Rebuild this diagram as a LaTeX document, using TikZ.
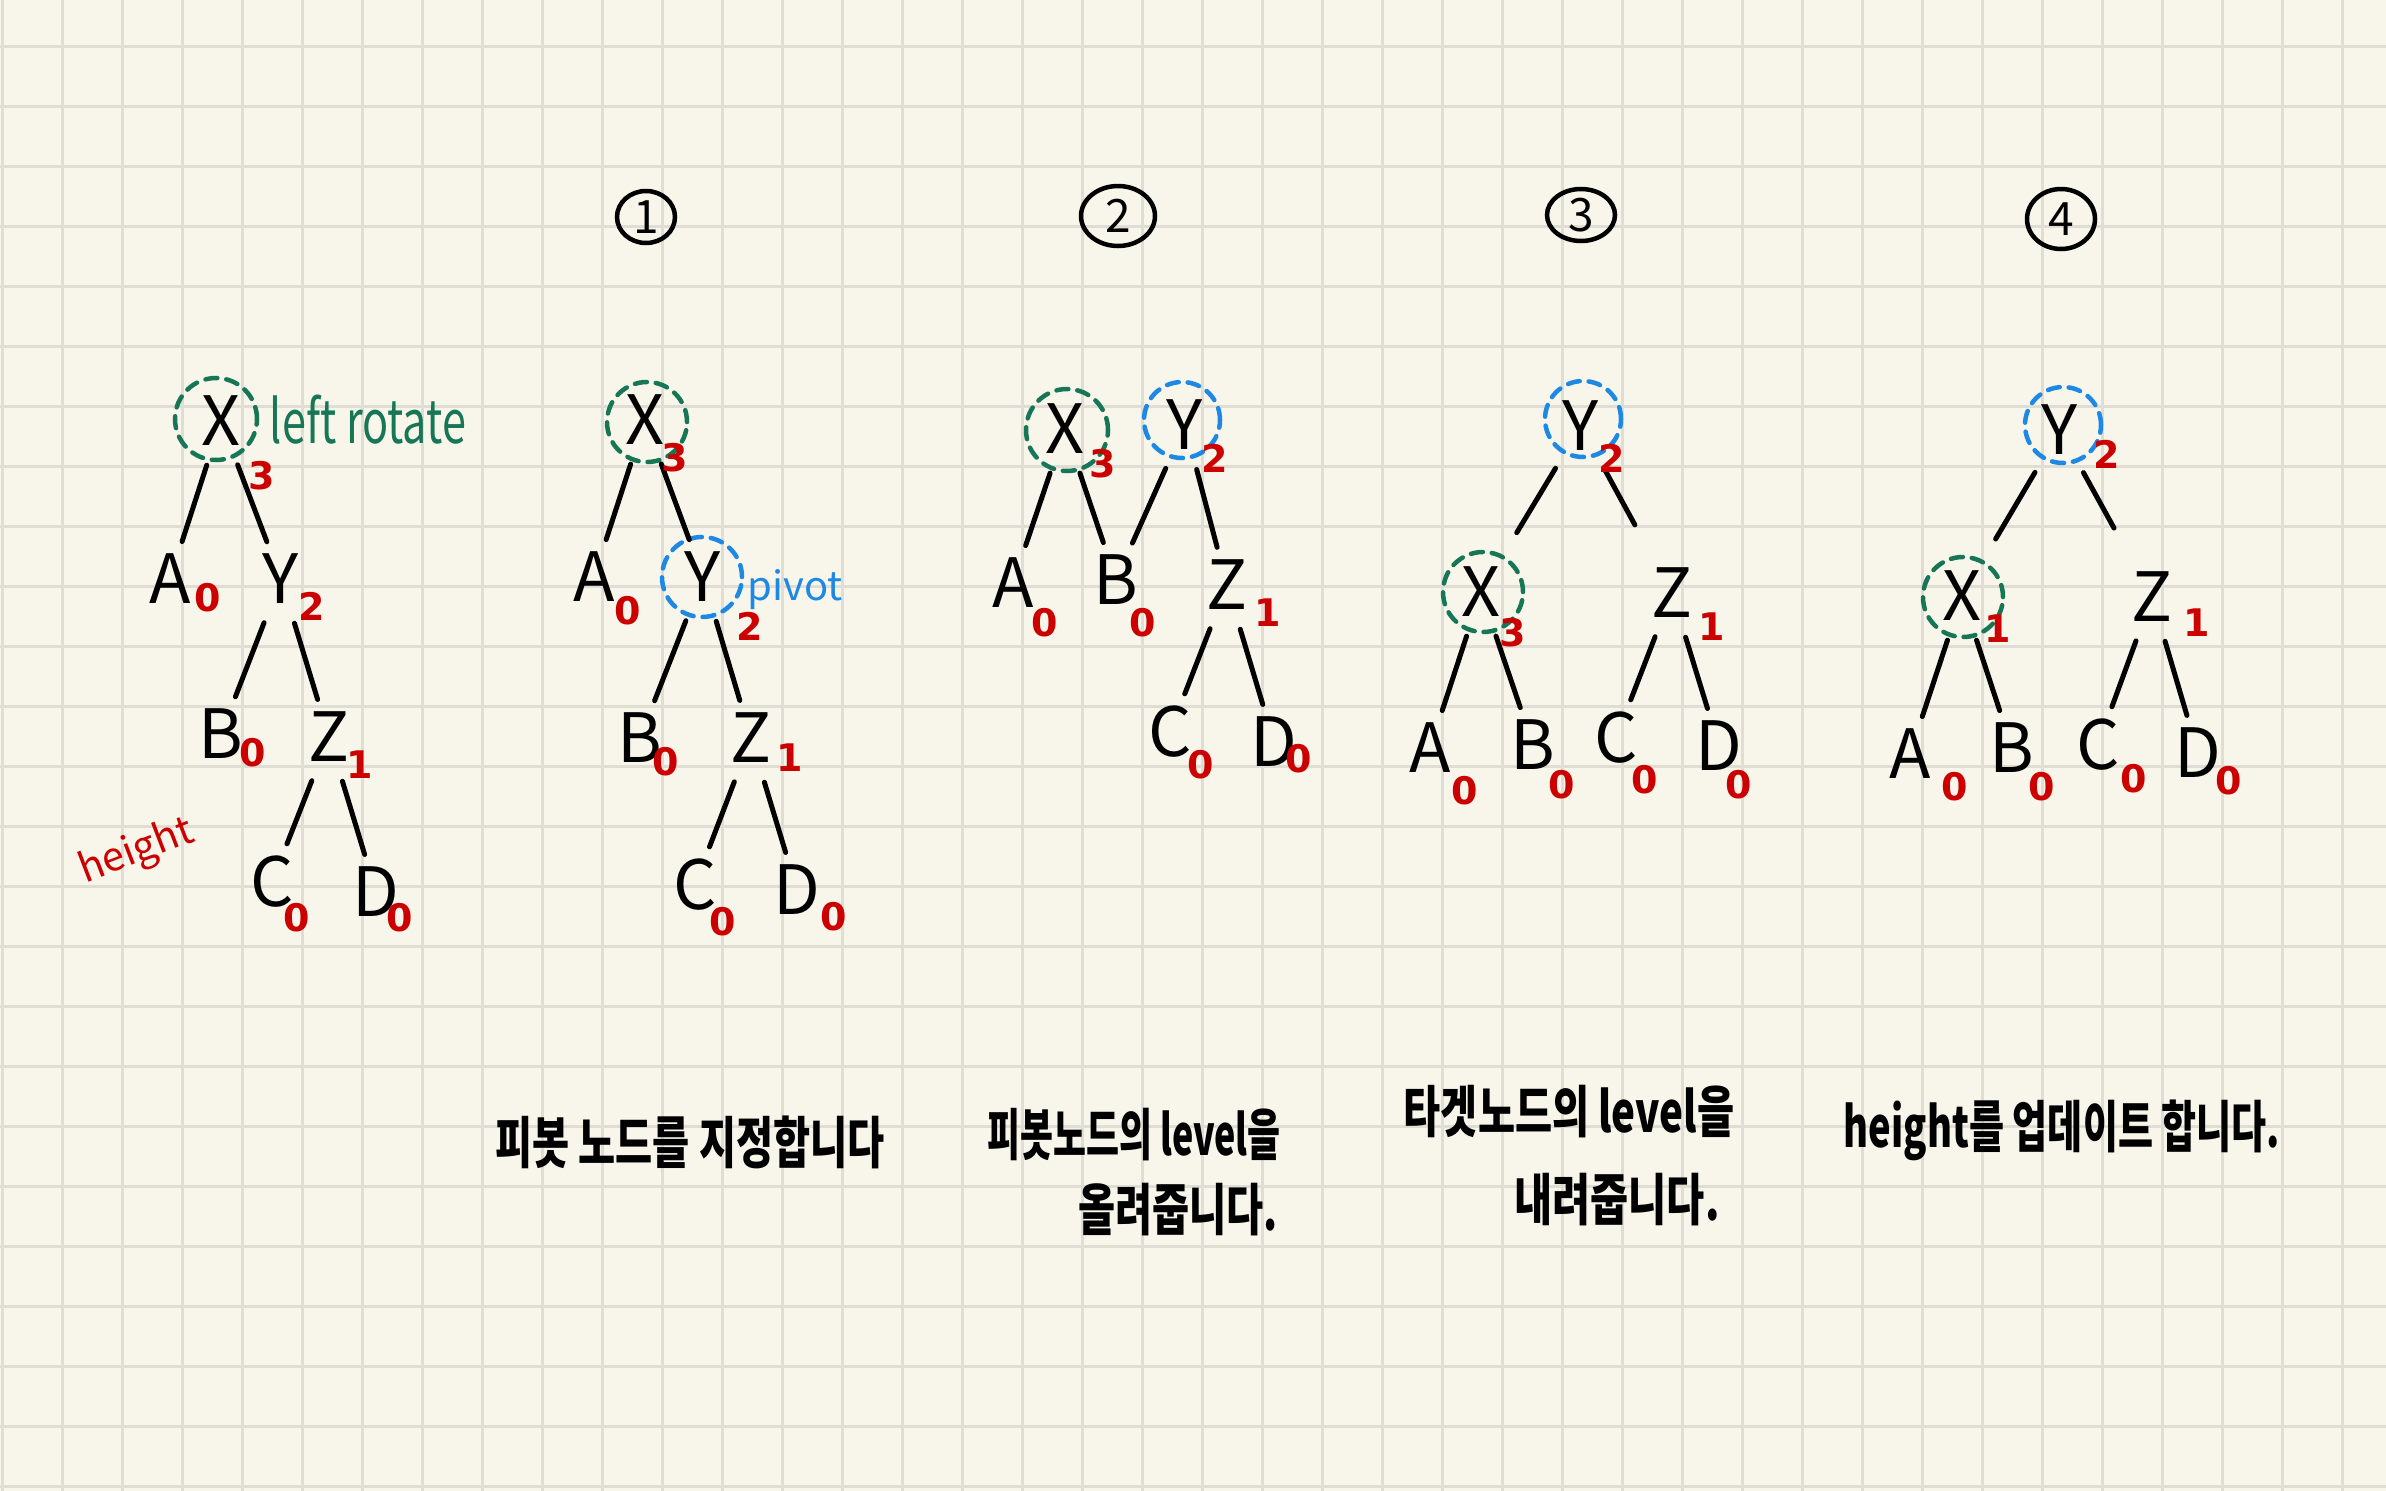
\documentclass[tikz,border=0pt]{standalone}
\usepackage{fontspec}
\setmainfont{Noto Sans CJK KR}
\newfontfamily\numfont{DejaVu Sans}
\usepackage{graphicx}
\usetikzlibrary{shapes.geometric}
\definecolor{paper}{RGB}{248,246,234}
\definecolor{gridc}{RGB}{224,222,212}
\definecolor{hgreen}{RGB}{22,118,86}
\definecolor{hblue}{RGB}{30,136,229}
\definecolor{hred}{RGB}{204,0,0}
\tikzset{
  gridl/.style={draw=gridc, line width=3pt},
  lett/.style={rectangle, inner sep=0pt, font=\fontsize{68}{68}\selectfont},
  gdash/.style={draw=hgreen, line width=4.5pt, dash pattern=on 12pt off 9pt, line cap=round},
  bdash/.style={draw=hblue, line width=4.5pt, dash pattern=on 12pt off 9pt, line cap=round},
  edg/.style={draw=black, line width=5pt, line cap=round, shorten <=20pt, shorten >=13pt},
  hnum/.style={text=hred, inner sep=0pt, font=\fontsize{38}{38}\numfont\bfseries},
  cnum/.style={ellipse, draw=black, line width=4.5pt, inner sep=0pt, font=\fontsize{46}{46}\selectfont},
  ktext/.style={inner sep=0pt, font=\fontsize{56}{60}\selectfont\bfseries},
}
\begin{document}
\begin{tikzpicture}[x=1pt,y=-1pt]
\fill[paper] (0,0) rectangle (2386,1491);
\useasboundingbox (0,0) rectangle (2386,1491);
\foreach \i in {0,...,39} \draw[gridl] (2+60*\i,0) -- (2+60*\i,1491);
\foreach \j in {0,...,24} \draw[gridl] (0,46+60*\j) -- (2386,46+60*\j);

% circled step numbers
\node[cnum, minimum width=58pt, minimum height=52pt] (n1) at (646,217) {1};
\node[cnum, minimum width=74pt, minimum height=60pt] (n2) at (1118,216) {2};
\node[cnum, minimum width=68pt, minimum height=52pt] (n3) at (1581,215) {3};
\node[cnum, minimum width=68pt, minimum height=60pt] (n4) at (2061,219) {4};

% ---------- tree 0 ----------
\node[lett] (aX) at (221,421) {X};
\node[lett] (aA) at (170,579) {A};
\node[lett] (aY) at (281,579) {Y};
\node[lett] (aB) at (221,734) {B};
\node[lett] (aZ) at (329,737) {Z};
\node[lett] (aC) at (272,882) {C};
\node[lett] (aD) at (376,892) {D};
\draw[gdash] (216,419) circle[radius=41pt];
\draw[edg] (aX) -- (aA);
\draw[edg] (aX) -- (aY);
\draw[edg] (aY) -- (aB);
\draw[edg] (aY) -- (aZ);
\draw[edg] (aZ) -- (aC);
\draw[edg] (aZ) -- (aD);
\node[hnum] (aXn) at (262,476) {3};
\node[hnum] (aAn) at (208,598) {0};
\node[hnum] (aYn) at (312,606) {2};
\node[hnum] (aBn) at (253,753) {0};
\node[hnum] (aZn) at (360,765) {1};
\node[hnum] (aCn) at (297,918) {0};
\node[hnum] (aDn) at (400,918) {0};
\node[inner sep=0pt, text=hgreen, font=\fontsize{60}{60}\selectfont] (lrot) at (368,420) {\scalebox{0.72}[1]{left rotate}};
\node[inner sep=0pt, text=hred, rotate=21, font=\fontsize{40}{40}\selectfont] (hgt) at (137,852) {height};

% ---------- tree 1 ----------
\node[lett] (bX) at (645,420) {X};
\node[lett] (bA) at (594,577) {A};
\node[lett] (bY) at (703,577) {Y};
\node[lett] (bB) at (640,738) {B};
\node[lett] (bZ) at (751,738) {Z};
\node[lett] (bC) at (695,885) {C};
\node[lett] (bD) at (797,890) {D};
\draw[gdash] (647,422) circle[radius=40pt];
\draw[bdash] (702,577) circle[radius=40pt];
\draw[edg] (bX) -- (bA);
\draw[edg] (bX) -- (bY);
\draw[edg] (bY) -- (bB);
\draw[edg] (bY) -- (bZ);
\draw[edg] (bZ) -- (bC);
\draw[edg] (bZ) -- (bD);
\node[hnum] (bXn) at (675,458) {3};
\node[hnum] (bAn) at (628,611) {0};
\node[hnum] (bYn) at (750,626) {2};
\node[hnum] (bBn) at (666,762) {0};
\node[hnum] (bZn) at (790,758) {1};
\node[hnum] (bCn) at (723,922) {0};
\node[hnum] (bDn) at (834,917) {0};
\node[inner sep=0pt, text=hblue, font=\fontsize{40}{40}\selectfont] (piv) at (795,590) {pivot};

% ---------- tree 2 ----------
\node[lett] (cX) at (1065,429) {X};
\node[lett] (cA) at (1013,583) {A};
\node[lett] (cB) at (1116,580) {B};
\node[lett] (cY) at (1185,425) {Y};
\node[lett] (cZ) at (1227,585) {Z};
\node[lett] (cC) at (1170,732) {C};
\node[lett] (cD) at (1274,742) {D};
\draw[gdash] (1067,430) circle[radius=41pt];
\draw[bdash] (1182,420) circle[radius=38pt];
\draw[edg] (cX) -- (cA);
\draw[edg] (cX) -- (cB);
\draw[edg] (cY) -- (cB);
\draw[edg] (cY) -- (cZ);
\draw[edg] (cZ) -- (cC);
\draw[edg] (cZ) -- (cD);
\node[hnum] (cXn) at (1103,464) {3};
\node[hnum] (cAn) at (1045,623) {0};
\node[hnum] (cBn) at (1143,623) {0};
\node[hnum] (cYn) at (1215,458) {2};
\node[hnum] (cZn) at (1268,613) {1};
\node[hnum] (cCn) at (1201,765) {0};
\node[hnum] (cDn) at (1299,759) {0};

% ---------- tree 3 ----------
\node[lett] (dY) at (1581,426) {Y};
\node[lett] (dX) at (1481,592) {X};
\node[lett] (dZ) at (1672,593) {Z};
\node[lett] (dA) at (1430,748) {A};
\node[lett] (dB) at (1533,745) {B};
\node[lett] (dC) at (1616,738) {C};
\node[lett] (dD) at (1719,746) {D};
\draw[bdash] (1583,419) circle[radius=38pt];
\draw[gdash] (1483,592) circle[radius=40pt];
\draw[edg, shorten >=40pt] (dY) -- (dX);
\draw[edg, shorten >=49pt] (dY) -- (dZ);
\draw[edg] (dX) -- (dA);
\draw[edg] (dX) -- (dB);
\draw[edg] (dZ) -- (dC);
\draw[edg] (dZ) -- (dD);
\node[hnum] (dYn) at (1612,458) {2};
\node[hnum] (dXn) at (1513,633) {3};
\node[hnum] (dZn) at (1712,627) {1};
\node[hnum] (dAn) at (1465,791) {0};
\node[hnum] (dBn) at (1562,785) {0};
\node[hnum] (dCn) at (1645,780) {0};
\node[hnum] (dDn) at (1739,785) {0};

% ---------- tree 4 ----------
\node[lett] (eY) at (2060,430) {Y};
\node[lett] (eX) at (1962,596) {X};
\node[lett] (eZ) at (2152,597) {Z};
\node[lett] (eA) at (1910,754) {A};
\node[lett] (eB) at (2012,748) {B};
\node[lett] (eC) at (2098,745) {C};
\node[lett] (eD) at (2198,753) {D};
\draw[bdash] (2063,425) circle[radius=38pt];
\draw[gdash] (1963,597) circle[radius=40pt];
\draw[edg, shorten >=37pt] (eY) -- (eX);
\draw[edg, shorten >=50pt] (eY) -- (eZ);
\draw[edg] (eX) -- (eA);
\draw[edg] (eX) -- (eB);
\draw[edg] (eZ) -- (eC);
\draw[edg] (eZ) -- (eD);
\node[hnum] (eYn) at (2107,454) {2};
\node[hnum] (eXn) at (1998,629) {1};
\node[hnum] (eZn) at (2197,623) {1};
\node[hnum] (eAn) at (1955,787) {0};
\node[hnum] (eBn) at (2042,787) {0};
\node[hnum] (eCn) at (2134,779) {0};
\node[hnum] (eDn) at (2229,781) {0};

% ---------- captions ----------
\node[ktext] (s1) at (690,1142) {\scalebox{0.72}[1]{피봇 노드를 지정합니다}};
\node[ktext] (s2a) at (1134,1135) {\scalebox{0.64}[1]{피봇노드의 level을}};
\node[ktext] (s2b) at (1178,1210) {\scalebox{0.72}[1]{올려줍니다.}};
\node[ktext] (s3a) at (1569,1112) {\scalebox{0.72}[1]{타겟노드의 level을}};
\node[ktext] (s3b) at (1617,1200) {\scalebox{0.74}[1]{내려줍니다.}};
\node[ktext] (s4) at (2062,1130) {\scalebox{0.68}[1]{height를 업데이트 합니다.}};
\end{tikzpicture}
\end{document}
